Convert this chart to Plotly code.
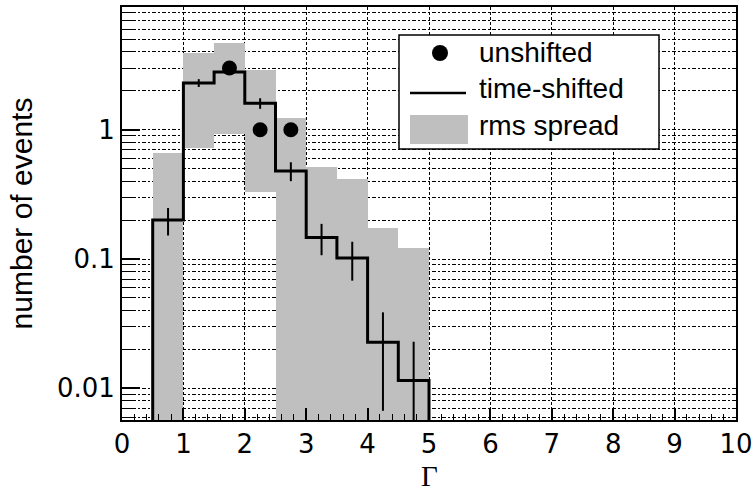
import plotly.graph_objects as go

# ---------------- data ----------------
bin_lo = [0.5, 1.0, 1.5, 2.0, 2.5, 3.0, 3.5, 4.0, 4.5]
bin_width = 0.5
shifted = [0.20, 2.30, 2.80, 1.60, 0.48, 0.147, 0.102, 0.0227, 0.0115]
shifted_err = [0.048, 0.16, 0.15, 0.15, 0.08, 0.040, 0.034, 0.016, 0.0114]
rms_hi = [0.66, 3.90, 4.66, 2.88, 1.24, 0.515, 0.418, 0.175, 0.121]
rms_lo = [0.0, 0.726, 0.921, 0.328, 0.0, 0.0, 0.0, 0.0, 0.0]
unshifted_x = [1.75, 2.25, 2.75]
unshifted_y = [3.0, 1.0, 1.0]

x_ticks = list(range(0, 11))
y_ticks = [0.01, 0.1, 1]
y_ticktext = ["0.01", "0.1", "1"]
y_minor = [m * d for d in (0.001, 0.01, 0.1, 1) for m in range(2, 10)]

legend_labels = ["unshifted", "time-shifted", "rms spread"]
x_title = "Γ"
y_title = "number of events"

# ---------------- layout constants ----------------
W, H = 754, 493
ML, MR, MT, MB = 122, 18, 7, 73
FLOOR = 1e-4
GRAY = "#bfbfbf"
FONT = "Liberation Sans, Arial, Helvetica, sans-serif"
TICKFONT = "DejaVu Sans, Liberation Sans, sans-serif"

centers = [b + bin_width / 2 for b in bin_lo]

fig = go.Figure()

# rms spread boxes
bases = [lo if lo > 0 else FLOOR for lo in rms_lo]
fig.add_trace(go.Bar(
    x=centers, y=[h - b for h, b in zip(rms_hi, bases)], base=bases,
    width=bin_width, marker=dict(color=GRAY, line=dict(width=0)),
    showlegend=False, hoverinfo="skip"))

# time-shifted step histogram
xs = [0.0] + bin_lo + [bin_lo[-1] + bin_width, 10.0]
ys = [FLOOR] + shifted + [FLOOR, FLOOR]
fig.add_trace(go.Scatter(x=xs, y=ys, mode="lines", line_shape="hv",
                         line=dict(color="black", width=3),
                         showlegend=False, hoverinfo="skip"))

# error bars
ex, ey = [], []
for c, v, e in zip(centers, shifted, shifted_err):
    lo = v - e
    ex += [c, c, None]
    ey += [lo if lo > 0 else FLOOR, v + e, None]
fig.add_trace(go.Scatter(x=ex, y=ey, mode="lines",
                         line=dict(color="black", width=2),
                         showlegend=False, hoverinfo="skip"))

# unshifted points
fig.add_trace(go.Scatter(x=unshifted_x, y=unshifted_y, mode="markers",
                         marker=dict(color="black", size=15),
                         showlegend=False, hoverinfo="skip"))


# ---------------- manual legend ----------------
def px(xp):
    return (xp - ML) / (W - ML - MR)


def py(yp):
    return 1 - (yp - MT) / (H - MT - MB)


shapes = [
    dict(type="rect", xref="paper", yref="paper",
         x0=px(399), x1=px(659), y0=py(149), y1=py(35),
         fillcolor="white", line=dict(color="black", width=1.5)),
    dict(type="circle", xref="paper", yref="paper",
         x0=px(432), x1=px(448), y0=py(61), y1=py(45),
         fillcolor="black", line=dict(color="black", width=0)),
    dict(type="line", xref="paper", yref="paper",
         x0=px(410), x1=px(466), y0=py(93), y1=py(93),
         line=dict(color="black", width=2.5)),
    dict(type="rect", xref="paper", yref="paper",
         x0=px(410), x1=px(468), y0=py(144), y1=py(115),
         fillcolor=GRAY, line=dict(width=0)),
]
annotations = []
for lab, yy in zip(legend_labels, [52, 89, 125]):
    annotations.append(dict(text=lab, xref="paper", yref="paper",
                            x=px(477), y=py(yy), xanchor="left", yanchor="middle",
                            showarrow=False,
                            font=dict(family=FONT, size=28, color="black")))
# x-axis title
annotations.append(dict(text=x_title, xref="paper", yref="paper",
                        x=0.5, y=py(476), xanchor="center", yanchor="middle",
                        showarrow=False, borderpad=0,
                        font=dict(family="Liberation Serif, Times New Roman, serif",
                                  size=29, color="black")))

fig.update_layout(
    width=W, height=H,
    margin=dict(l=ML, r=MR, t=MT, b=MB),
    paper_bgcolor="white", plot_bgcolor="white",
    shapes=shapes, annotations=annotations,
    showlegend=False, bargap=0,
    font=dict(family=FONT, color="black"),
)

fig.update_xaxes(
    range=[0, 10], tickvals=x_ticks, ticktext=[str(t) for t in x_ticks],
    ticks="inside", ticklen=12, tickwidth=1.5, tickcolor="black",
    tickfont=dict(family=TICKFONT, size=26),
    showline=True, linewidth=2, linecolor="black", mirror=True,
    showgrid=True, gridcolor="black", gridwidth=1, griddash="3px,2px",
    zeroline=False,
    minor=dict(dtick=0.2, ticks="inside", ticklen=6, tickwidth=1, tickcolor="black",
               showgrid=False),
    automargin=False,
)
fig.update_yaxes(
    type="log", range=[-2.245, 0.949],
    tickvals=y_ticks, ticktext=y_ticktext,
    ticks="inside", ticklen=18, tickwidth=1.5, tickcolor="black",
    tickfont=dict(family=TICKFONT, size=26),
    showline=True, linewidth=2, linecolor="black", mirror=True,
    showgrid=True, gridcolor="black", gridwidth=1, griddash="4px,2px,2px,2px",
    zeroline=False,
    minor=dict(tickvals=y_minor, ticks="inside", ticklen=10, tickwidth=1, tickcolor="black",
               showgrid=True, gridcolor="black", gridwidth=1, griddash="4px,2px,2px,2px"),
    title=dict(text=y_title, font=dict(family=FONT, size=30), standoff=15),
    automargin=False,
)

fig.write_html("out.html")
